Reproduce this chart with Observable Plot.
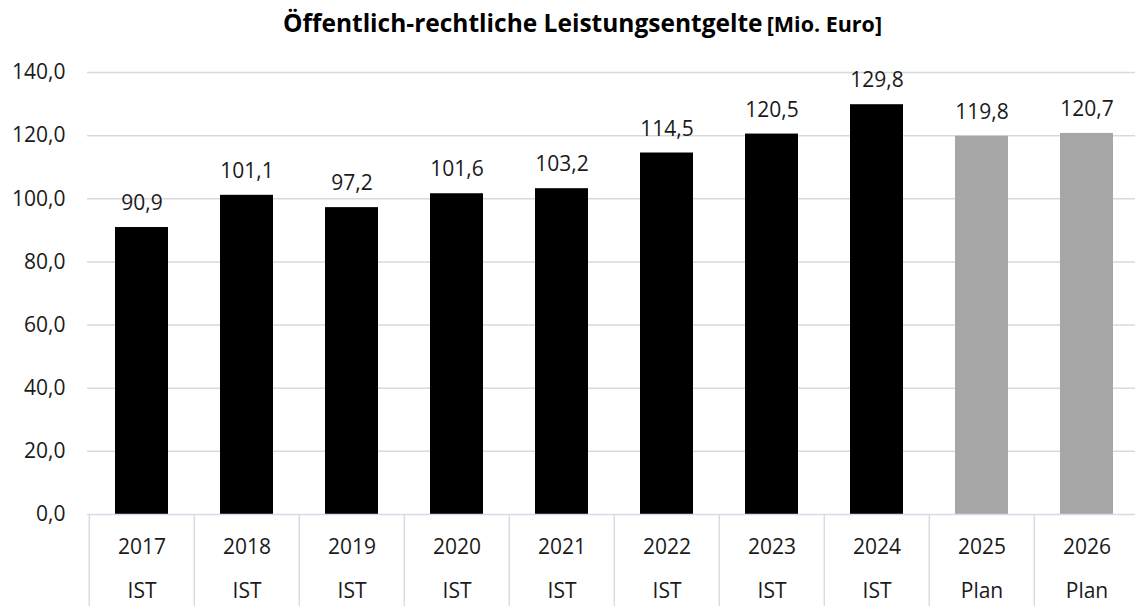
<!DOCTYPE html>
<html>
<head>
<meta charset="utf-8">
<script src="https://cdn.jsdelivr.net/npm/d3@7"></script>
<script src="https://cdn.jsdelivr.net/npm/@observablehq/plot@0.6"></script>
<style>
  html, body { margin: 0; padding: 0; background: #fff; }
  #title {
    width: 1135px; height: 46px; line-height: 46px;
    font-family: "Open Sans", sans-serif; font-weight: 700; color: #000;
    text-align: center; white-space: nowrap;
  }
  #title .main { font-size: 24.5px; padding-left: 30px; }
  #title .unit { font-size: 21.5px; }
</style>
</head>
<body>
<div id="title"><span class="main">Öffentlich-rechtliche Leistungsentgelte</span> <span class="unit">[Mio. Euro]</span></div>
<div id="chart"></div>
<script>
const years = ["2017", "2018", "2019", "2020", "2021", "2022", "2023", "2024", "2025", "2026"];
const status = ["IST", "IST", "IST", "IST", "IST", "IST", "IST", "IST", "Plan", "Plan"];
const values = [90.9, 101.1, 97.2, 101.6, 103.2, 114.5, 120.5, 129.8, 119.8, 120.7];
const yTicks = [0, 20, 40, 60, 80, 100, 120, 140];

const data = years.map((y, i) => ({year: y, status: status[i], value: values[i]}));
const fmt = v => v.toFixed(1).replace(".", ",");

const W = 1135, H = 560;
const left = 87, right = 1141;
const step = (right - left) / years.length;
const font = "'Open Sans', sans-serif";
const textColor = "#1a1a1a";

const chart = Plot.plot({
  width: W,
  height: H,
  marginLeft: left,
  marginRight: 0,
  marginTop: 26,
  marginBottom: 92,
  style: {fontFamily: font, fontSize: "21px", color: textColor, overflow: "visible", background: "#fff"},
  x: {domain: years, range: [left, right], paddingInner: 0.5, paddingOuter: 0.25, axis: null},
  y: {domain: [0, 140], axis: null},
  color: {domain: ["IST", "Plan"], range: ["#000000", "#a6a6a6"]},
  marks: [
    Plot.gridY(yTicks.filter(t => t > 0), {stroke: "#d9d9d9", strokeOpacity: 1, strokeWidth: 1.5}),
    Plot.axisY(yTicks, {
      tickSize: 0, tickPadding: 22, tickFormat: fmt, label: null,
      fontSize: 21, fill: textColor, anchor: "left"
    }),
    Plot.barY(data, {x: "year", y: "value", fill: "status"}),
    Plot.ruleY([0], {stroke: "#d6dce5", strokeWidth: 1.5}),
    Plot.axisX(years, {
      anchor: "bottom", tickSize: 92, tickFormat: () => "", dx: -step / 2, label: null,
      stroke: "#d6dce5", strokeWidth: 1.5, strokeOpacity: 1
    }),
    Plot.text(data, {
      x: "year", y: "value", text: d => fmt(d.value), dy: -24,
      fontSize: 21, fill: textColor, lineAnchor: "middle"
    }),
    Plot.text(data, {
      x: "year", frameAnchor: "bottom", text: "year", dy: 33,
      fontSize: 21, fill: textColor, lineAnchor: "middle"
    }),
    Plot.text(data, {
      x: "year", frameAnchor: "bottom", text: "status", dy: 77,
      fontSize: 21, fill: textColor, lineAnchor: "middle"
    })
  ]
});
document.getElementById("chart").appendChild(chart);
</script>
</body>
</html>
